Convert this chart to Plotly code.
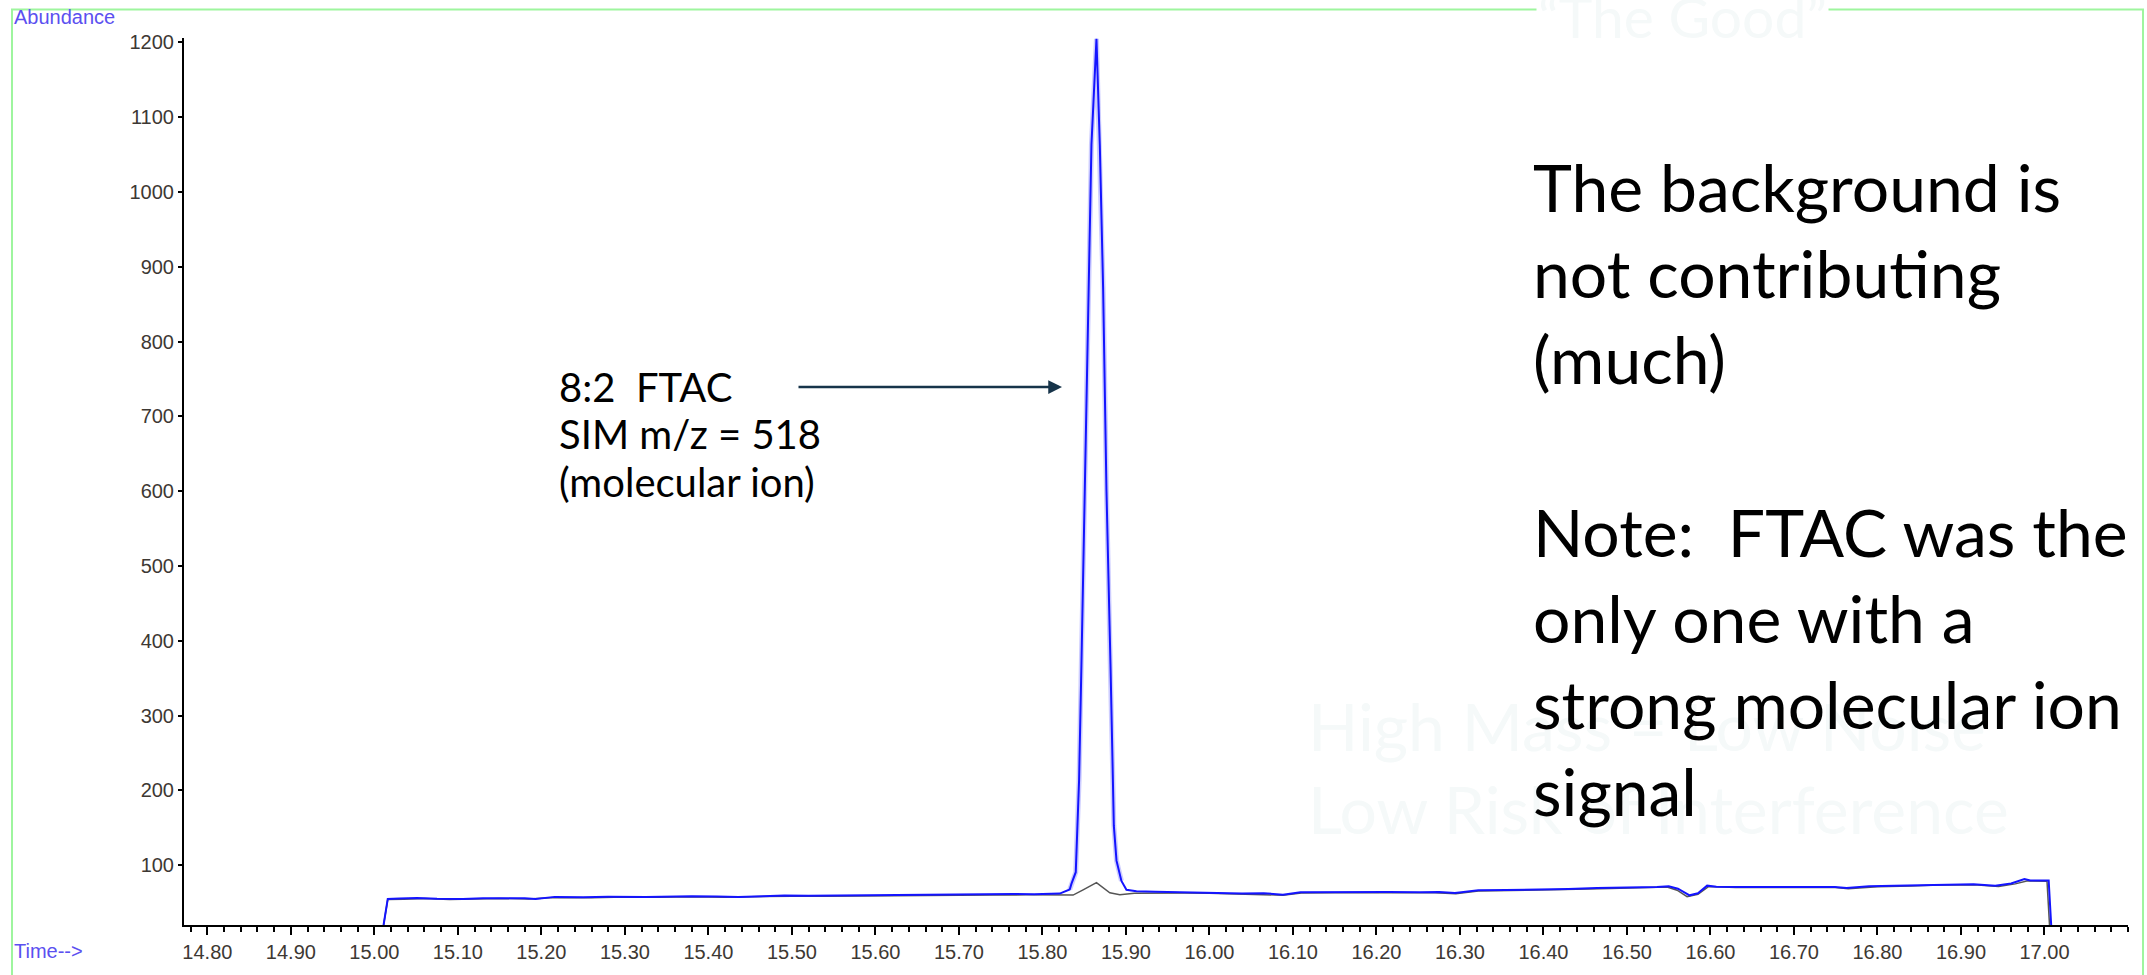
import plotly.graph_objects as go

# ---------------- data ----------------
time_blue = [15.011, 15.016, 15.030, 15.051, 15.075, 15.106, 15.130, 15.161, 15.180, 15.193,
             15.216, 15.250, 15.280, 15.325, 15.350, 15.380, 15.410, 15.436, 15.465, 15.491,
             15.520, 15.546, 15.575, 15.601, 15.630, 15.656, 15.685, 15.711, 15.740, 15.766,
             15.790, 15.810, 15.8207, 15.8327, 15.8347, 15.8399, 15.8439, 15.8467, 15.8507,
             15.8547, 15.8587, 15.8647, 15.8687, 15.8727, 15.8767, 15.8815, 15.8855, 15.8887,
             15.8946, 15.9006, 15.9126, 15.935, 15.967, 16.000, 16.039, 16.065, 16.088, 16.109,
             16.140, 16.180, 16.215, 16.252, 16.275, 16.294, 16.322, 16.355, 16.393, 16.430,
             16.464, 16.500, 16.536, 16.550, 16.561, 16.575, 16.585, 16.596, 16.607, 16.640,
             16.678, 16.710, 16.749, 16.763, 16.790, 16.820, 16.855, 16.891, 16.915, 16.941,
             16.960, 16.976, 16.983, 17.005, 17.008]
abund_blue = [20, 54.9, 55.5, 56.2, 55.2, 54.9, 55.8, 56.2, 55.8, 54.9,
              57.6, 57.2, 57.8, 57.6, 58.2, 58.5, 58.0, 57.6, 58.6, 59.3,
              59.0, 59.3, 59.8, 59.7, 60.2, 59.9, 60.4, 60.6, 61.0, 61.5,
              61.0, 61.5, 62.0, 67.4, 75.0, 90.6, 214, 368.5, 600,
              870, 1063.6, 1205, 1063.6, 870, 600, 368.5, 152.8, 106,
              79, 67, 65, 64.4, 63.7, 63.2, 62.0, 62.6, 60.6, 63.7,
              64.0, 64.6, 64.2, 63.7, 64.0, 62.8, 66.4, 66.8, 67.3, 68.2,
              69.5, 70.0, 70.8, 71.7, 68.5, 59.7, 62.5, 72.6, 71.0, 70.8,
              71.0, 71.5, 70.8, 69.5, 71.8, 72.6, 73.5, 74.8, 74.5, 72.6,
              75.5, 81.4, 79.6, 79.6, 20]

time_gray = [15.011, 15.016, 15.035, 15.060, 15.090, 15.120, 15.150, 15.185, 15.216, 15.260,
             15.300, 15.340, 15.380, 15.420, 15.460, 15.500, 15.540, 15.580, 15.620, 15.660,
             15.700, 15.740, 15.780, 15.810, 15.8367, 15.8487, 15.8647, 15.8807, 15.8927,
             15.910, 15.940, 15.970, 16.000, 16.040, 16.088, 16.110, 16.150, 16.190,
             16.230, 16.270, 16.295, 16.322, 16.360, 16.400, 16.440, 16.480, 16.520, 16.548,
             16.560, 16.572, 16.585, 16.598, 16.630, 16.670, 16.710, 16.750, 16.765, 16.800,
             16.840, 16.880, 16.920, 16.945, 16.965, 16.980, 17.003, 17.006]
abund_gray = [20, 54.0, 54.5, 55.3, 54.2, 55.0, 55.6, 54.6, 56.8, 56.6,
              57.3, 57.0, 57.8, 57.2, 58.0, 58.6, 58.5, 59.0, 59.3, 59.4,
              60.0, 60.2, 60.3, 60.5, 60.0, 67.0, 76.7, 63.0, 60.5,
              62.5, 63.0, 62.8, 62.5, 61.2, 59.8, 62.8, 63.2, 63.6,
              63.0, 63.2, 61.8, 65.4, 66.0, 66.5, 67.8, 68.8, 69.5, 70.8,
              66.5, 58.0, 61.0, 71.5, 70.0, 70.2, 70.6, 70.0, 68.5, 71.0,
              72.0, 73.8, 73.5, 71.5, 75.0, 79.0, 78.5, 20]

y_ticks = [100, 200, 300, 400, 500, 600, 700, 800, 900, 1000, 1100, 1200]
x_ticks = [14.8, 14.9, 15.0, 15.1, 15.2, 15.3, 15.4, 15.5, 15.6, 15.7, 15.8, 15.9,
           16.0, 16.1, 16.2, 16.3, 16.4, 16.5, 16.6, 16.7, 16.8, 16.9, 17.0]
x_tick_labels = [f"{v:.2f}" for v in x_ticks]

left_note = ["8:2\u00a0\u00a0FTAC", "SIM m/z = 518", "(molecular ion)"]
right_note = ["The background is", "not contributing", "(much)", "",
              "Note:\u00a0\u00a0FTAC was the", "only one with a", "strong molecular ion", "signal"]

# ---------------- figure ----------------
W, H = 2147, 975
ML, MR, MT, MB = 184, 19, 38, 35
PW, PH = W - ML - MR, H - MT - MB


def px_x(p):
    return (p - ML) / PW


def px_y(p):
    return (H - MB - p) / PH


# the part of the blue trace that forms the peak (drawn with a soft halo)
halo_t = [t for t, v in zip(time_blue, abund_blue) if 15.83 <= t <= 15.90]
halo_v = [v for t, v in zip(time_blue, abund_blue) if 15.83 <= t <= 15.90]

fig = go.Figure()
fig.add_trace(go.Scatter(x=time_gray, y=abund_gray, mode="lines",
                         line=dict(color="#555555", width=1.5), hoverinfo="skip"))
fig.add_trace(go.Scatter(x=halo_t, y=halo_v, mode="lines",
                         line=dict(color="rgba(130,130,255,0.4)", width=5), hoverinfo="skip"))
fig.add_trace(go.Scatter(x=time_blue, y=abund_blue, mode="lines",
                         line=dict(color="#1414ff", width=2), hoverinfo="skip"))

tick_font = dict(family="Liberation Sans, Arial, sans-serif", size=20, color="#3d3833")

fig.update_layout(
    width=W, height=H,
    margin=dict(l=ML, r=MR, t=MT, b=MB, pad=0),
    paper_bgcolor="white", plot_bgcolor="white",
    showlegend=False,
    xaxis=dict(range=[14.772, 17.10], tickvals=x_ticks, ticktext=x_tick_labels,
               showgrid=False, zeroline=False, showline=True, linecolor="black", linewidth=2,
               ticks="outside", ticklen=8, tickwidth=2, tickcolor="black",
               minor=dict(dtick=0.02, tick0=14.78, ticks="outside", ticklen=5, tickwidth=1.5,
                          tickcolor="black", showgrid=False),
               tickfont=tick_font, fixedrange=True),
    yaxis=dict(range=[20, 1206], tickvals=y_ticks, ticktext=[str(v) for v in y_ticks],
               showgrid=False, zeroline=False, showline=True, linecolor="black", linewidth=2,
               ticks="outside", ticklen=4, tickwidth=1.5, tickcolor="black",
               tickfont=tick_font, fixedrange=True),
)

# light-green frame of the original screenshot
fig.add_shape(type="rect", xref="paper", yref="paper",
              x0=px_x(12), x1=px_x(2143), y0=px_y(1010), y1=px_y(9),
              line=dict(color="#9ef59e", width=2), fillcolor="rgba(0,0,0,0)", layer="below")

annotations = []
blue_lbl = "#5b50f0"
annotations.append(dict(text="Abundance", xref="paper", yref="paper", x=px_x(12), y=px_y(17),
                        xanchor="left", yanchor="middle", showarrow=False,
                        font=dict(family="Liberation Sans, Arial", size=20, color=blue_lbl)))
annotations.append(dict(text="Time-->", xref="paper", yref="paper", x=px_x(12), y=px_y(966),
                        xanchor="left", yanchor="middle", showarrow=False,
                        font=dict(family="Liberation Sans, Arial", size=20, color=blue_lbl)))

# faint ghost texts
ghost = "#f5f9f9"
annotations.append(dict(text="\u201cThe Good\u201d", xref="paper", yref="paper", x=px_x(1536), y=px_y(16),
                        xanchor="left", yanchor="middle", showarrow=False, bgcolor="white",
                        font=dict(family="Lato, sans-serif", size=57, color=ghost)))
annotations.append(dict(text="High Mass = Low Noise", xref="paper", yref="paper", x=px_x(1306), y=px_y(737),
                        xanchor="left", yanchor="middle", showarrow=False,
                        font=dict(family="Lato, sans-serif", size=66, color=ghost)))
annotations.append(dict(text="Low Risk of Interference", xref="paper", yref="paper", x=px_x(1306), y=px_y(822),
                        xanchor="left", yanchor="middle", showarrow=False,
                        font=dict(family="Lato, sans-serif", size=66, color=ghost)))

# left note
for i, line in enumerate(left_note):
    annotations.append(dict(text=line, xref="paper", yref="paper", x=px_x(557), y=px_y(393 + 48 * i),
                            xanchor="left", yanchor="middle", showarrow=False,
                            font=dict(family="Lato, sans-serif", size=40, color="black")))

# right note
for i, line in enumerate(right_note):
    if not line:
        continue
    annotations.append(dict(text=line, xref="paper", yref="paper", x=px_x(1531), y=px_y(189 + 87.7 * i),
                            xanchor="left", yanchor="middle", showarrow=False,
                            font=dict(family="Lato, sans-serif", size=66, color="black")))

# arrow
annotations.append(dict(text="", xref="paper", yref="paper", x=px_x(1062), y=px_y(393),
                        ax=797 - 1062, ay=0, axref="pixel", ayref="pixel",
                        showarrow=True, arrowhead=2, arrowsize=1.1, arrowwidth=2.5,
                        arrowcolor="#17344a"))

fig.update_layout(annotations=annotations)
fig.write_html("out.html", config={"displayModeBar": False},
               post_script="document.body.style.margin='0';document.body.style.overflow='hidden';")
